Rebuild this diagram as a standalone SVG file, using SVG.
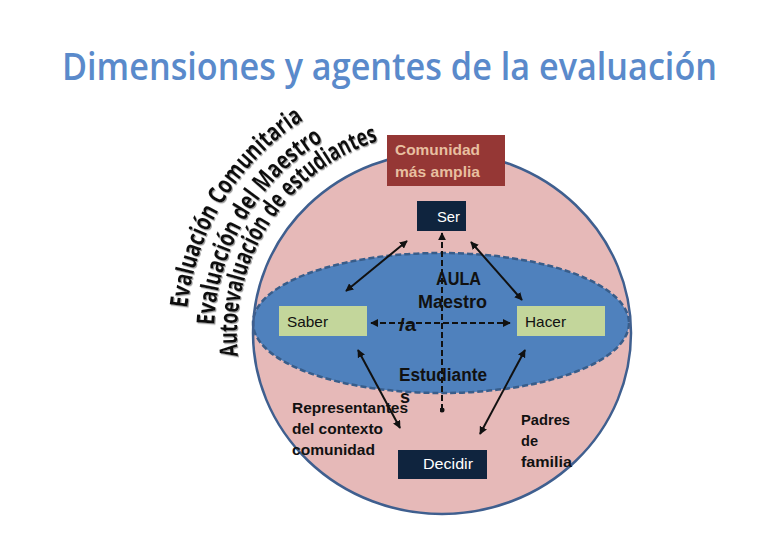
<svg xmlns="http://www.w3.org/2000/svg" width="780" height="540" viewBox="0 0 780 540">
<defs>
<style>
.t{font-family:"Liberation Sans","Open Sans",Arial,sans-serif;}
.b{font-weight:bold;fill:#111;}
.curve{font-family:"Open Sans","Liberation Sans",Arial,sans-serif;font-weight:bold;font-size:25px;fill:#111;}
.ln{stroke:#111;stroke-width:2;fill:none;}
.dash{stroke:#111;stroke-width:2;fill:none;stroke-dasharray:6 3;}
</style>
<filter id="sh" x="-10%" y="-10%" width="120%" height="120%">
<feDropShadow dx="1" dy="1.2" stdDeviation="0.6" flood-color="#888" flood-opacity="0.8"/>
</filter>
<marker id="ah" viewBox="0 0 10 10" refX="9" refY="5" markerWidth="8" markerHeight="8" markerUnits="userSpaceOnUse" orient="auto-start-reverse">
<path d="M0,0 L10,5 L0,10 z" fill="#111"/>
</marker>
<marker id="dot" viewBox="0 0 10 10" refX="5" refY="5" markerWidth="5" markerHeight="5" markerUnits="userSpaceOnUse">
<circle cx="5" cy="5" r="5" fill="#111"/>
</marker>
<path id="arcOuter" d="M187.4,308.3 A255,255 0 0 1 303.6,120.2"/>
<path id="arcMid" d="M214.2,325.1 A227,227 0 0 1 323.4,140.9"/>
<path id="arcInner" d="M238.1,356.3 A204,204 0 0 1 380,140.3"/>
</defs>
<rect width="780" height="540" fill="#fff"/>

<text x="62" y="80" font-family="Open Sans, Liberation Sans, sans-serif" font-size="37" font-weight="600" fill="#5A8ACB" textLength="655" lengthAdjust="spacingAndGlyphs">Dimensiones y agentes de la evaluación</text>

<g id="sphere">
<ellipse cx="442" cy="333" rx="189" ry="181" fill="#E6B9B8"/>
<ellipse cx="441" cy="323" rx="188" ry="70" fill="#4F81BD" stroke="#385D8A" stroke-width="2.5" stroke-dasharray="6 3"/>
<ellipse cx="442" cy="333" rx="189" ry="181" fill="none" stroke="#3F5F8F" stroke-width="2.5"/>
</g>

<g id="curved-labels" filter="url(#sh)">
<text class="curve"><textPath href="#arcOuter" textLength="229" lengthAdjust="spacingAndGlyphs">Evaluación Comunitaria</textPath></text>
<text class="curve"><textPath href="#arcMid" textLength="223" lengthAdjust="spacingAndGlyphs">Evaluación del Maestro</textPath></text>
<text class="curve"><textPath href="#arcInner" textLength="278" lengthAdjust="spacingAndGlyphs">Autoevaluación de estudiantes</textPath></text>
</g>

<g id="comunidad">
<rect x="387" y="135" width="118" height="51" fill="#953735"/>
<text class="t" font-weight="bold" font-size="15" fill="#E8BFA0" x="395" y="155" textLength="85" lengthAdjust="spacingAndGlyphs">Comunidad</text>
<text class="t" font-weight="bold" font-size="15" fill="#E8BFA0" x="395" y="177" textLength="85" lengthAdjust="spacingAndGlyphs">más amplia</text>
</g>

<g id="ser">
<rect x="417" y="201" width="49" height="30" fill="#0F243E"/>
<text class="t" font-size="15" fill="#fff" x="437" y="222" textLength="23" lengthAdjust="spacingAndGlyphs">Ser</text>
</g>

<g id="saber">
<rect x="279" y="306" width="88" height="30" fill="#C3D69B"/>
<text class="t" font-size="15" fill="#111" x="287" y="327" textLength="41" lengthAdjust="spacingAndGlyphs">Saber</text>
</g>

<g id="hacer">
<rect x="517" y="306" width="88" height="30" fill="#C3D69B"/>
<text class="t" font-size="15" fill="#111" x="525" y="327" textLength="41" lengthAdjust="spacingAndGlyphs">Hacer</text>
</g>

<g id="decidir">
<rect x="398" y="450" width="89" height="29" fill="#0F243E"/>
<text class="t" font-size="15" fill="#fff" x="423" y="469" textLength="50" lengthAdjust="spacingAndGlyphs">Decidir</text>
</g>

<g id="connectors">
<line class="ln" x1="407" y1="241" x2="346" y2="291" marker-start="url(#ah)" marker-end="url(#ah)"/>
<line class="ln" x1="471" y1="242" x2="522" y2="300" marker-start="url(#ah)" marker-end="url(#ah)"/>
<line class="ln" x1="358" y1="350" x2="400" y2="428" marker-start="url(#ah)" marker-end="url(#ah)"/>
<line class="ln" x1="525" y1="350" x2="480" y2="434" marker-start="url(#ah)" marker-end="url(#ah)"/>
<line class="dash" x1="442" y1="410" x2="442" y2="233" marker-start="url(#dot)" marker-end="url(#ah)"/>
<line class="dash" x1="371" y1="323" x2="510" y2="323" marker-start="url(#ah)" marker-end="url(#ah)"/>
</g>

<g id="aula">
<text class="t b" font-size="18" x="436" y="285" textLength="45" lengthAdjust="spacingAndGlyphs">AULA</text>
<text class="t b" font-size="18" x="418" y="308" textLength="69" lengthAdjust="spacingAndGlyphs">Maestro</text>
<text class="t b" font-size="18" x="399" y="331" textLength="17" lengthAdjust="spacingAndGlyphs">/a</text>
<text class="t b" font-size="18" x="399" y="381" textLength="88" lengthAdjust="spacingAndGlyphs">Estudiante</text>
<text class="t b" font-size="18" x="400" y="403">s</text>
</g>

<g id="representantes">
<text class="t b" font-size="15" x="292" y="413" textLength="116" lengthAdjust="spacingAndGlyphs">Representantes</text>
<text class="t b" font-size="15" x="292" y="434" textLength="91" lengthAdjust="spacingAndGlyphs">del contexto</text>
<text class="t b" font-size="15" x="292" y="455" textLength="83" lengthAdjust="spacingAndGlyphs">comunidad</text>
</g>

<g id="padres">
<text class="t b" font-size="15" x="521" y="425" textLength="49" lengthAdjust="spacingAndGlyphs">Padres</text>
<text class="t b" font-size="15" x="521" y="446" textLength="17" lengthAdjust="spacingAndGlyphs">de</text>
<text class="t b" font-size="15" x="521" y="467" textLength="51" lengthAdjust="spacingAndGlyphs">familia</text>
</g>
</svg>
